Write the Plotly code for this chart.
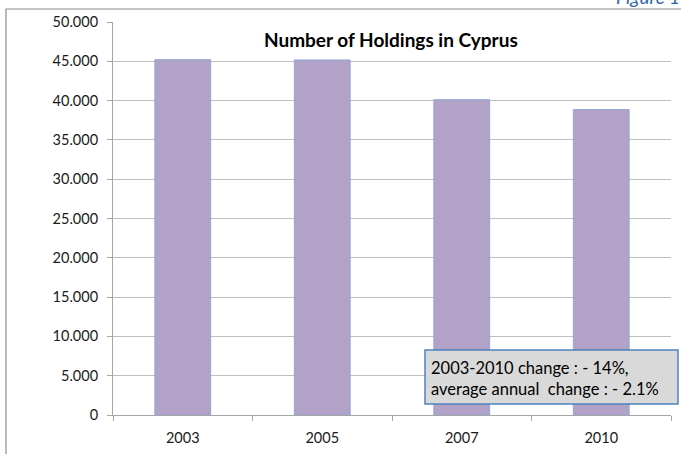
import plotly.graph_objects as go

years = ["2003", "2005", "2007", "2010"]
holdings = [45210, 45170, 40120, 38860]
y_ticks = [0, 5000, 10000, 15000, 20000, 25000, 30000, 35000, 40000, 45000, 50000]

title_text = "Number of Holdings in Cyprus"
note_lines = ["2003-2010 change : - 14%,", "average annual  change : - 2.1%"]
figure_label = "Figure 1"

W, H = 681, 454
L, R, T, B = 113, 10, 22, 39
pw, ph = W - L - R, H - T - B

def px_x(x):
    return (x - L) / pw

def px_y(y):
    return (H - B - y) / ph

FONT = "Lato, 'Open Sans', sans-serif"

fig = go.Figure()
fig.add_trace(go.Bar(
    x=years, y=holdings, width=0.4,
    marker=dict(color="#B3A2C7", line=dict(color="#8DA9D6", width=1)),
))

shapes = [
    # outer chart border (left + top)
    dict(type="path", xref="paper", yref="paper",
         path=f"M {px_x(6)} {px_y(470)} L {px_x(6)} {px_y(9)} L {px_x(700)} {px_y(9)}",
         line=dict(color="#8C8C8C", width=1.2), layer="above"),
    # note box
    dict(type="rect", xref="paper", yref="paper",
         x0=px_x(425), x1=px_x(678), y0=px_y(404), y1=px_y(350),
         fillcolor="#D9D9D9", line=dict(color="#4F81BD", width=1.5), layer="above"),
]

annotations = [
    dict(text=f"<b>{title_text}</b>", xref="paper", yref="paper",
         x=px_x(391), y=px_y(40), xanchor="center", yanchor="middle",
         showarrow=False, font=dict(size=19, color="#000000", family=FONT)),
    dict(text=note_lines[0] + "<br>" + note_lines[1], xref="paper", yref="paper",
         x=px_x(429), y=px_y(378), xanchor="left", yanchor="middle", align="left",
         showarrow=False, font=dict(size=16.5, color="#000000", family=FONT)),
    dict(text=f"<i>{figure_label}</i>", xref="paper", yref="paper",
         x=px_x(682), y=px_y(-3), xanchor="right", yanchor="middle",
         showarrow=False, font=dict(size=19, color="#2F67A8", family=FONT)),
]

fig.update_layout(
    width=W, height=H,
    margin=dict(l=L, r=R, t=T, b=B, autoexpand=False),
    paper_bgcolor="white", plot_bgcolor="white",
    separators=",.",
    showlegend=False,
    shapes=shapes, annotations=annotations,
    font=dict(family=FONT, size=14.5, color="#000000"),
    bargap=0.6,
)
fig.update_xaxes(
    type="category", showgrid=False,
    showline=True, linecolor="#A6A6A6", linewidth=1,
    ticks="outside", tickson="boundaries", ticklen=5, tickcolor="#A6A6A6",
    ticklabelstandoff=10,
    tickfont=dict(size=14.5, family=FONT, color="#1a1a1a"), fixedrange=True,
    automargin=False,
)
fig.update_yaxes(
    range=[0, 50000], tickvals=y_ticks, tickformat=",d",
    showgrid=True, gridcolor="#BFBFBF", gridwidth=1,
    showline=True, linecolor="#A6A6A6", linewidth=1,
    ticks="outside", ticklen=5, tickcolor="#A6A6A6",
    ticklabelstandoff=6,
    tickfont=dict(size=14.5, family=FONT, color="#1a1a1a"), zeroline=False, fixedrange=True,
    automargin=False,
)

fig.write_html(
    "out.html",
    config={"displayModeBar": False, "staticPlot": True},
    post_script="document.body.style.margin='0px';document.body.style.overflow='hidden';",
)
